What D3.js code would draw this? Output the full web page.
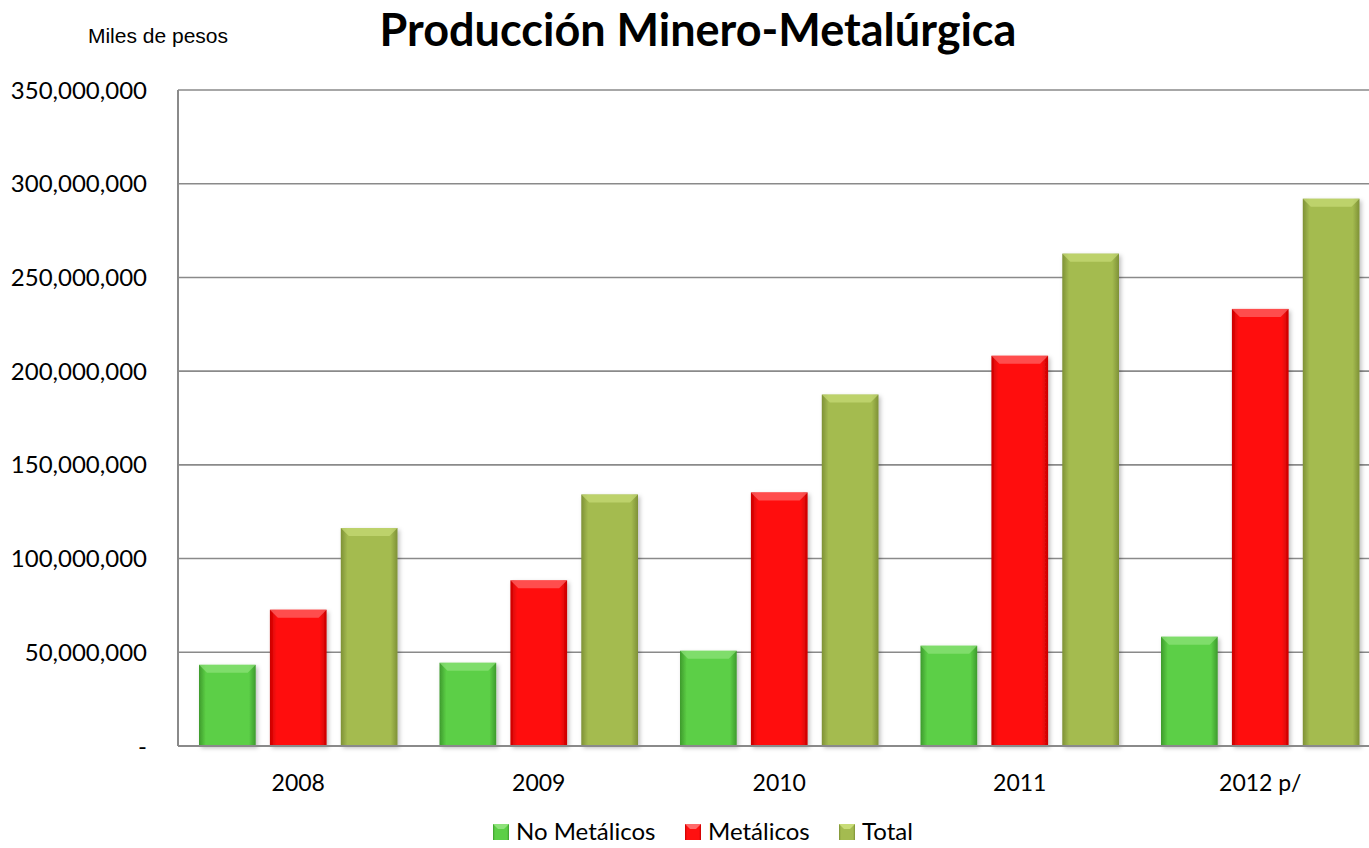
<!DOCTYPE html>
<html>
<head>
<meta charset="utf-8">
<script src="https://d3js.org/d3.v7.min.js"></script>
<style>
body { margin: 0; background: #fff; }
svg { display: block; }
.ylab, .xlab, .leg { font-family: Lato, "Open Sans", sans-serif; fill: #000; }
</style>
</head>
<body>
<div id="chart"></div>
<script>

var years = ['2008', '2009', '2010', '2011', '2012 p/'];
var series = ['No Metálicos', 'Metálicos', 'Total'];
var noMetalicos = [43300000, 44400000, 50800000, 53500000, 58300000];
var metalicos = [72700000, 88400000, 135300000, 208200000, 233200000];
var total = [116300000, 134200000, 187500000, 262700000, 292000000];
var yTicks = [0, 50000000, 100000000, 150000000, 200000000, 250000000, 300000000, 350000000];

var colors = {
	'No Metálicos': {edge: '#3d9a2c', mid: '#5ccf46', top: '#8ee27a'},
	'Metálicos': {edge: '#c80000', mid: '#ff1010', top: '#ff6a6a'},
	'Total': {edge: '#7e9136', mid: '#a4bb50', top: '#c8dc78'}
};

var W = 1369, H = 848;
var margin = {top: 90, left: 178, bottom: 102};
var plotW = 5 * 240.5, plotH = H - margin.top - margin.bottom;

var svg = d3.select('#chart').append('svg')
	.attr('width', W)
	.attr('height', H);

var defs = svg.append('defs');
series.forEach(function(s, i) {
	var g = defs.append('linearGradient').attr('id', 'g' + i)
		.attr('x1', 0).attr('x2', 1).attr('y1', 0).attr('y2', 0);
	g.append('stop').attr('offset', '0%').attr('stop-color', colors[s].edge);
	g.append('stop').attr('offset', '12%').attr('stop-color', colors[s].mid);
	g.append('stop').attr('offset', '88%').attr('stop-color', colors[s].mid);
	g.append('stop').attr('offset', '100%').attr('stop-color', colors[s].edge);
});
var f = defs.append('filter').attr('id', 'shadow').attr('x', '-20%').attr('y', '-5%').attr('width', '140%').attr('height', '115%');
f.append('feDropShadow').attr('dx', 2).attr('dy', 2).attr('stdDeviation', 2).attr('flood-color', '#000').attr('flood-opacity', 0.25);

var x0 = d3.scaleBand().domain(years).range([0, plotW]).paddingInner(0).paddingOuter(0);
var x1 = d3.scaleBand().domain(series).range([21, 240.5 - 21]).paddingInner(0.2).paddingOuter(0);
var y = d3.scaleLinear().domain([0, 350000000]).range([plotH, 0]);

// titles
svg.append('text')
	.attr('x', 158).attr('y', 43)
	.attr('text-anchor', 'middle')
	.style('font-family', '"Liberation Sans", Arial, sans-serif')
	.style('font-size', '21px')
	.text('Miles de pesos');

svg.append('text')
	.attr('x', 698).attr('y', 46)
	.attr('text-anchor', 'middle')
	.style('font-family', 'Lato, "Open Sans", sans-serif')
	.style('font-weight', 'bold')
	.style('font-size', '45px')
	.text('Producción Minero-Metalúrgica');

var g = svg.append('g').attr('transform', 'translate(' + margin.left + ',' + margin.top + ')');

// gridlines
g.selectAll('.grid').data(yTicks.slice(1)).enter().append('line')
	.attr('x1', 0).attr('x2', plotW)
	.attr('y1', function(d) { return y(d); })
	.attr('y2', function(d) { return y(d); })
	.attr('stroke', '#8a8a8a').attr('stroke-width', 1.6);

// y labels
var fmt = d3.format(',');
g.selectAll('.ylab').data(yTicks).enter().append('text')
	.attr('class', 'ylab')
	.attr('x', -31)
	.attr('y', function(d) { return y(d); })
	.attr('dy', '0.36em')
	.attr('text-anchor', 'end')
	.style('font-size', '24px')
	.text(function(d) { return d === 0 ? '-' : fmt(d); });

// bars
var data = years.map(function(yr, i) {
	return {year: yr, vals: [noMetalicos[i], metalicos[i], total[i]]};
});

var groups = g.selectAll('.grp').data(data).enter().append('g')
	.attr('transform', function(d) { return 'translate(' + x0(d.year) + ',0)'; });

var bars = groups.selectAll('.bar')
	.data(function(d) { return d.vals.map(function(v, i) { return {s: series[i], i: i, v: v}; }); })
	.enter().append('g').attr('class', 'bar');

bars.append('rect')
	.attr('x', function(d) { return x1(d.s); })
	.attr('y', function(d) { return y(d.v); })
	.attr('width', x1.bandwidth())
	.attr('height', function(d) { return plotH - y(d.v); })
	.attr('fill', function(d) { return 'url(#g' + d.i + ')'; })
	.attr('filter', 'url(#shadow)');

// top bevel
bars.append('path')
	.attr('d', function(d) {
		var xa = x1(d.s), xb = xa + x1.bandwidth(), yt = y(d.v), b = 8;
		return 'M' + xa + ',' + yt + 'L' + xb + ',' + yt + 'L' + (xb - b) + ',' + (yt + b) + 'L' + (xa + b) + ',' + (yt + b) + 'Z';
	})
	.attr('fill', function(d) { return colors[d.s].top; })
	.attr('opacity', 0.7);

// axes lines
g.append('line').attr('x1', 0).attr('x2', 0).attr('y1', 0).attr('y2', plotH)
	.attr('stroke', '#8a8a8a').attr('stroke-width', 2);
g.append('line').attr('x1', 0).attr('x2', plotW).attr('y1', plotH).attr('y2', plotH)
	.attr('stroke', '#8a8a8a').attr('stroke-width', 2);

// x labels
g.selectAll('.xlab').data(years).enter().append('text')
	.attr('class', 'xlab')
	.attr('x', function(d) { return x0(d) + x0.bandwidth() / 2; })
	.attr('y', plotH + 45)
	.attr('text-anchor', 'middle')
	.style('font-size', '23px')
	.text(function(d) { return d; });

// legend
var legX = [493, 685, 839];
var leg = svg.selectAll('.legitem').data(series).enter().append('g')
	.attr('transform', function(d, i) { return 'translate(' + legX[i] + ',824)'; });
leg.append('rect')
	.attr('width', 16).attr('height', 16)
	.attr('fill', function(d, i) { return 'url(#g' + i + ')'; });
leg.append('path')
	.attr('d', 'M0,0L16,0L11,5L5,5Z')
	.attr('fill', function(d) { return colors[d].top; });
leg.append('text')
	.attr('class', 'leg')
	.attr('x', 23).attr('y', 16)
	.style('font-size', '24px')
	.text(function(d) { return d; });

</script>
</body>
</html>
